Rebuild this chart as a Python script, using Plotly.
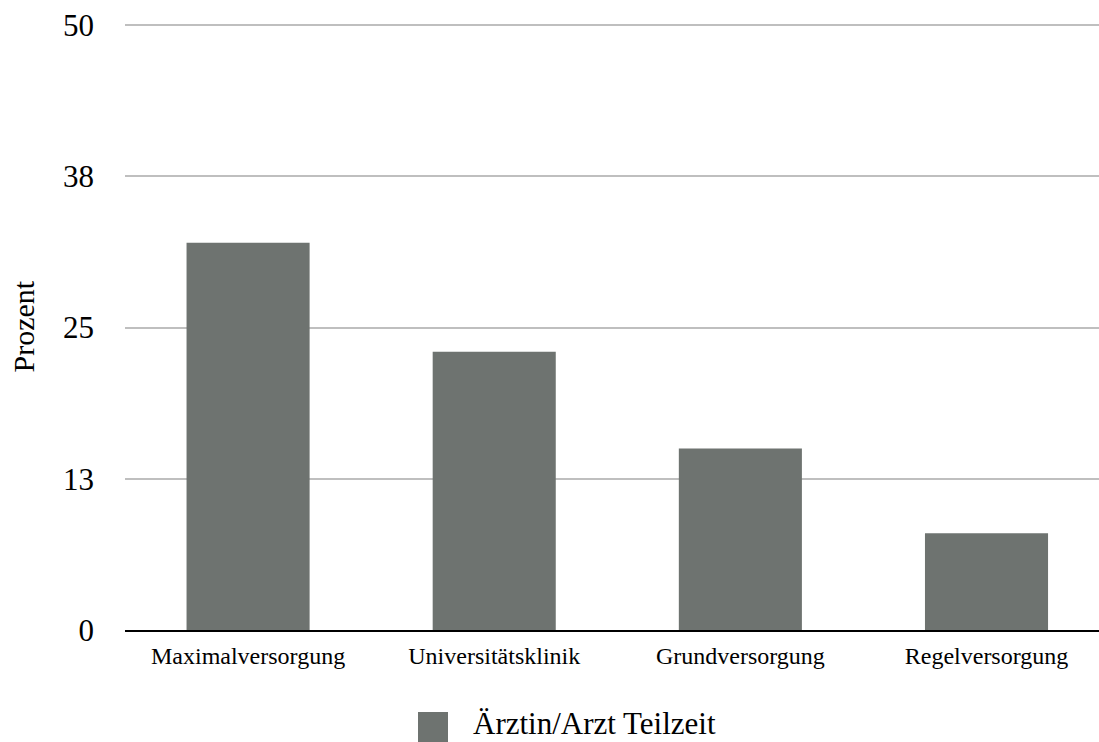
import plotly.graph_objects as go

categories = ["Maximalversorgung", "Universitätsklinik", "Grundversorgung", "Regelversorgung"]
values = [32, 23, 15, 8]
series_name = "Ärztin/Arzt Teilzeit"
y_title = "Prozent"
y_tickvals = [0, 12.5, 25, 37.5, 50]
y_ticktext = ["0", "13", "25", "38", "50"]

BAR_COLOR = "#6e7370"
FONT = "Liberation Serif"

fig = go.Figure()
fig.add_trace(go.Bar(x=categories, y=values, name=series_name,
                     marker=dict(color=BAR_COLOR, line=dict(width=0)),
                     showlegend=False))

TOP = 15
PH = 742 - TOP - 112
fig.update_layout(
    width=1099, height=742,
    margin=dict(l=125, r=0, t=TOP, b=112),
    paper_bgcolor="white", plot_bgcolor="white",
    font=dict(family=FONT, color="black"),
    bargap=0.5,
    showlegend=False,
)
fig.update_xaxes(range=[-0.5, 3.457], showline=True, linecolor="black", linewidth=2,
                 showgrid=False, ticks="", tickfont=dict(size=24, family=FONT),
                 ticklabelstandoff=3)
fig.update_yaxes(range=[0, 50 * PH / 605], tickvals=y_tickvals, ticktext=y_ticktext,
                 showgrid=True, gridcolor="#bfbfbf", gridwidth=2, zeroline=False,
                 ticks="", tickfont=dict(size=31, family=FONT), ticklabelstandoff=30)

# y-axis title
fig.add_annotation(text=y_title, xref="paper", yref="paper",
                   x=(22.5 - 125) / 974, y=(630 - 327) / PH, textangle=-90,
                   xanchor="center", yanchor="middle", showarrow=False, borderpad=0,
                   font=dict(size=30, family=FONT, color="black"))

# legend drawn manually (large square symbol)
fig.add_shape(type="rect", xref="paper", yref="paper",
              x0=(418 - 125) / 974, x1=(448 - 125) / 974,
              y0=(630 - 742) / PH, y1=(630 - 712) / PH,
              fillcolor=BAR_COLOR, line=dict(width=0))
fig.add_annotation(text=series_name, xref="paper", yref="paper",
                   x=(472 - 125) / 974, y=(630 - 723) / PH,
                   xanchor="left", yanchor="middle", showarrow=False, borderpad=0,
                   font=dict(size=31, family=FONT, color="black"))

fig.write_html("out.html")
